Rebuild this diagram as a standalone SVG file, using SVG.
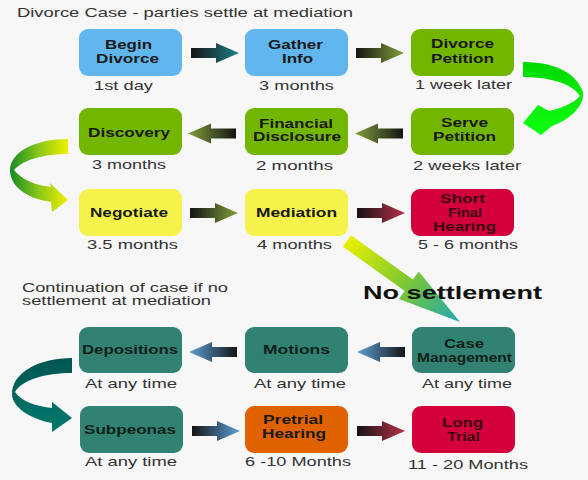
<svg xmlns="http://www.w3.org/2000/svg" xmlns:xlink="http://www.w3.org/1999/xlink" width="588" height="480" viewBox="0 0 588 480">
<style>
.t{font-family:"Liberation Sans",Arial,sans-serif;font-size:13px;fill:#333}
.c{font-family:"Liberation Sans",Arial,sans-serif;font-size:12px;fill:#333}
.b{font-family:"Liberation Sans",Arial,sans-serif;font-size:12px;font-weight:bold;fill:#1a1a1a}
.bd{font-family:"Liberation Sans",Arial,sans-serif;font-size:12px;font-weight:bold;fill:#3a0012}
.bt{font-family:"Liberation Sans",Arial,sans-serif;font-size:12px;font-weight:bold;fill:#0f1f1a}
.ns{font-family:"Liberation Sans",Arial,sans-serif;font-size:19px;font-weight:bold;fill:#111}
.blue{fill:#62b6ee}.green{fill:#73b600}.yellow{fill:#f5f24c}.red{fill:#d3003b}.teal{fill:#318272}.orange{fill:#e06100}
</style>
<defs>
<path id="arr" d="M0,-5 H25 V-10 L48,0 L25,10 V5 H0 Z"/>
<linearGradient id="gTeal" x1="0" y1="0" x2="1" y2="0"><stop offset="0" stop-color="#141414"/><stop offset="1" stop-color="#1e8088"/></linearGradient>
<linearGradient id="gOlive" x1="0" y1="0" x2="1" y2="0"><stop offset="0" stop-color="#141414"/><stop offset="1" stop-color="#82a03c"/></linearGradient>
<linearGradient id="gRed" x1="0" y1="0" x2="1" y2="0"><stop offset="0" stop-color="#141414"/><stop offset="1" stop-color="#b83048"/></linearGradient>
<linearGradient id="gBlue" x1="0" y1="0" x2="1" y2="0"><stop offset="0" stop-color="#141414"/><stop offset="1" stop-color="#5ea0d8"/></linearGradient>
<linearGradient id="gCurve1" gradientUnits="userSpaceOnUse" x1="10" y1="0" x2="68" y2="0"><stop offset="0" stop-color="#168a28"/><stop offset="0.5" stop-color="#8cc818"/><stop offset="1" stop-color="#f0f000"/></linearGradient>
<linearGradient id="gCurveG" gradientUnits="userSpaceOnUse" x1="0" y1="62" x2="0" y2="135"><stop offset="0" stop-color="#00d800"/><stop offset="1" stop-color="#10ff10"/></linearGradient>
<linearGradient id="gCurveT" gradientUnits="userSpaceOnUse" x1="0" y1="358" x2="0" y2="432"><stop offset="0" stop-color="#005550"/><stop offset="1" stop-color="#007a6e"/></linearGradient>
<linearGradient id="gDiag" gradientUnits="userSpaceOnUse" x1="0" y1="0" x2="139" y2="0"><stop offset="0" stop-color="#e8f000"/><stop offset="0.5" stop-color="#80c830"/><stop offset="1" stop-color="#20a8b0"/></linearGradient>
</defs>
<rect width="588" height="480" fill="#f6f7f6"/>
<text class="t" x="17" y="17" textLength="336" lengthAdjust="spacingAndGlyphs">Divorce Case - parties settle at mediation</text>
<text class="c" x="22" y="292" textLength="206" lengthAdjust="spacingAndGlyphs">Continuation of case if no</text>
<text class="c" x="22" y="305" textLength="189" lengthAdjust="spacingAndGlyphs">settlement at mediation</text>

<g id="connectors">
<use xlink:href="#arr" href="#arr" transform="translate(191,53)" fill="url(#gTeal)"/>
<use xlink:href="#arr" href="#arr" transform="translate(356,53)" fill="url(#gOlive)"/>
<use xlink:href="#arr" href="#arr" transform="translate(403,133.5) scale(-1,1)" fill="url(#gOlive)"/>
<use xlink:href="#arr" href="#arr" transform="translate(236,133.5) scale(-1,1)" fill="url(#gOlive)"/>
<use xlink:href="#arr" href="#arr" transform="translate(190,213)" fill="url(#gOlive)"/>
<use xlink:href="#arr" href="#arr" transform="translate(357,213)" fill="url(#gRed)"/>
<use xlink:href="#arr" href="#arr" transform="translate(405,352) scale(-1,1)" fill="url(#gBlue)"/>
<use xlink:href="#arr" href="#arr" transform="translate(237,352) scale(-1,1)" fill="url(#gBlue)"/>
<use xlink:href="#arr" href="#arr" transform="translate(192,431)" fill="url(#gBlue)"/>
<use xlink:href="#arr" href="#arr" transform="translate(357,431)" fill="url(#gRed)"/>
<path d="M523,62 C550,62 575,70 583,92 C585,105 570,120 552,126 L541,135 L523,123 L538,105 L549,111 C562,108 574,103 580,96 C574,86 555,77 523,77 Z" fill="url(#gCurveG)"/>
<path d="M68,139 L68,154 C45,154 24,159 14,170 C22,180 35,185 51,187 L50,183 L68,200 L52,212 L51,202 C30,199 12,189 10,172 C9,152 35,139 68,139 Z" fill="url(#gCurve1)"/>
<path d="M72,358 L72,373 C45,373 22,380 15,392 C22,402 36,406 52,408 L52,402 L72,418 L52,432 L52,423 C30,419 12,407 12,394 C12,372 40,358 72,358 Z" fill="url(#gCurveT)"/>
<path d="M0,-7 L76,-7 L76,-17 L139,0 L76,17 L76,7 L0,7 Z" transform="translate(347,241) rotate(35.6)" fill="url(#gDiag)"/>
<text class="ns" x="363" y="299" textLength="179" lengthAdjust="spacingAndGlyphs">No settlement</text>
</g>

<g id="begin-divorce">
<rect class="blue" x="79" y="29" width="103" height="47" rx="9"/>
<text class="b" x="105" y="49" textLength="47" lengthAdjust="spacingAndGlyphs">Begin</text>
<text class="b" x="96" y="63" textLength="63" lengthAdjust="spacingAndGlyphs">Divorce</text>
<text class="t" x="94" y="90" textLength="59" lengthAdjust="spacingAndGlyphs">1st day</text>
</g>
<g id="gather-info">
<rect class="blue" x="245" y="29" width="103" height="47" rx="9"/>
<text class="b" x="268" y="49" textLength="55" lengthAdjust="spacingAndGlyphs">Gather</text>
<text class="b" x="282" y="63" textLength="31" lengthAdjust="spacingAndGlyphs">Info</text>
<text class="t" x="259" y="90" textLength="75" lengthAdjust="spacingAndGlyphs">3 months</text>
</g>
<g id="divorce-petition">
<rect class="green" x="411" y="29" width="103" height="47" rx="9"/>
<text class="b" x="431" y="48" textLength="63" lengthAdjust="spacingAndGlyphs">Divorce</text>
<text class="b" x="431" y="63" textLength="63" lengthAdjust="spacingAndGlyphs">Petition</text>
<text class="t" x="415" y="89" textLength="97" lengthAdjust="spacingAndGlyphs">1 week later</text>
</g>
<g id="discovery">
<rect class="green" x="79" y="108" width="103" height="47" rx="9"/>
<text class="b" x="88" y="137" textLength="82" lengthAdjust="spacingAndGlyphs">Discovery</text>
<text class="t" x="92" y="169" textLength="74" lengthAdjust="spacingAndGlyphs">3 months</text>
</g>
<g id="financial-disclosure">
<rect class="green" x="245" y="108" width="103" height="47" rx="9"/>
<text class="b" x="259" y="128" textLength="74" lengthAdjust="spacingAndGlyphs">Financial</text>
<text class="b" x="253" y="141" textLength="88" lengthAdjust="spacingAndGlyphs">Disclosure</text>
<text class="t" x="256" y="170" textLength="77" lengthAdjust="spacingAndGlyphs">2 months</text>
</g>
<g id="serve-petition">
<rect class="green" x="411" y="108" width="103" height="47" rx="9"/>
<text class="b" x="441" y="127" textLength="47" lengthAdjust="spacingAndGlyphs">Serve</text>
<text class="b" x="433" y="141" textLength="63" lengthAdjust="spacingAndGlyphs">Petition</text>
<text class="t" x="413" y="170" textLength="108" lengthAdjust="spacingAndGlyphs">2 weeks later</text>
</g>
<g id="negotiate">
<rect class="yellow" x="79" y="189" width="103" height="47" rx="9"/>
<text class="b" x="90" y="217" textLength="78" lengthAdjust="spacingAndGlyphs">Negotiate</text>
<text class="t" x="87" y="249" textLength="91" lengthAdjust="spacingAndGlyphs">3.5 months</text>
</g>
<g id="mediation">
<rect class="yellow" x="245" y="189" width="103" height="47" rx="9"/>
<text class="b" x="256" y="217" textLength="81" lengthAdjust="spacingAndGlyphs">Mediation</text>
<text class="t" x="257" y="249" textLength="75" lengthAdjust="spacingAndGlyphs">4 months</text>
</g>
<g id="short-final-hearing">
<rect class="red" x="411" y="189" width="103" height="47" rx="9"/>
<text class="bd" x="440" y="203" textLength="45" lengthAdjust="spacingAndGlyphs">Short</text>
<text class="bd" x="448" y="217" textLength="34" lengthAdjust="spacingAndGlyphs">Final</text>
<text class="bd" x="433" y="231" textLength="63" lengthAdjust="spacingAndGlyphs">Hearing</text>
<text class="t" x="418" y="249" textLength="100" lengthAdjust="spacingAndGlyphs">5 - 6 months</text>
</g>
<g id="depositions">
<rect class="teal" x="79" y="327" width="103" height="46" rx="9"/>
<text class="bt" x="82" y="354" textLength="96" lengthAdjust="spacingAndGlyphs">Depositions</text>
<text class="t" x="85" y="388" textLength="92" lengthAdjust="spacingAndGlyphs">At any time</text>
</g>
<g id="motions">
<rect class="teal" x="245" y="327" width="103" height="46" rx="9"/>
<text class="bt" x="263" y="354" textLength="67" lengthAdjust="spacingAndGlyphs">Motions</text>
<text class="t" x="254" y="388" textLength="92" lengthAdjust="spacingAndGlyphs">At any time</text>
</g>
<g id="case-management">
<rect class="teal" x="412" y="327" width="103" height="46" rx="9"/>
<text class="bt" x="444" y="348" textLength="40" lengthAdjust="spacingAndGlyphs">Case</text>
<text class="bt" x="417" y="362" textLength="95" lengthAdjust="spacingAndGlyphs">Management</text>
<text class="t" x="422" y="388" textLength="90" lengthAdjust="spacingAndGlyphs">At any time</text>
</g>
<g id="subpeonas">
<rect class="teal" x="80" y="406" width="103" height="47" rx="9"/>
<text class="bt" x="84" y="434" textLength="92" lengthAdjust="spacingAndGlyphs">Subpeonas</text>
<text class="t" x="85" y="466" textLength="92" lengthAdjust="spacingAndGlyphs">At any time</text>
</g>
<g id="pretrial-hearing">
<rect class="orange" x="245" y="406" width="103" height="47" rx="9"/>
<text class="b" x="263" y="424" textLength="60" lengthAdjust="spacingAndGlyphs">Pretrial</text>
<text class="b" x="262" y="438" textLength="64" lengthAdjust="spacingAndGlyphs">Hearing</text>
<text class="t" x="245" y="466" textLength="106" lengthAdjust="spacingAndGlyphs">6 -10 Months</text>
</g>
<g id="long-trial">
<rect class="red" x="412" y="406" width="103" height="47" rx="9"/>
<text class="bd" x="442" y="427" textLength="41" lengthAdjust="spacingAndGlyphs">Long</text>
<text class="bd" x="447" y="441" textLength="33" lengthAdjust="spacingAndGlyphs">Trial</text>
<text class="t" x="408" y="469" textLength="120" lengthAdjust="spacingAndGlyphs">11 - 20 Months</text>
</g>
</svg>
